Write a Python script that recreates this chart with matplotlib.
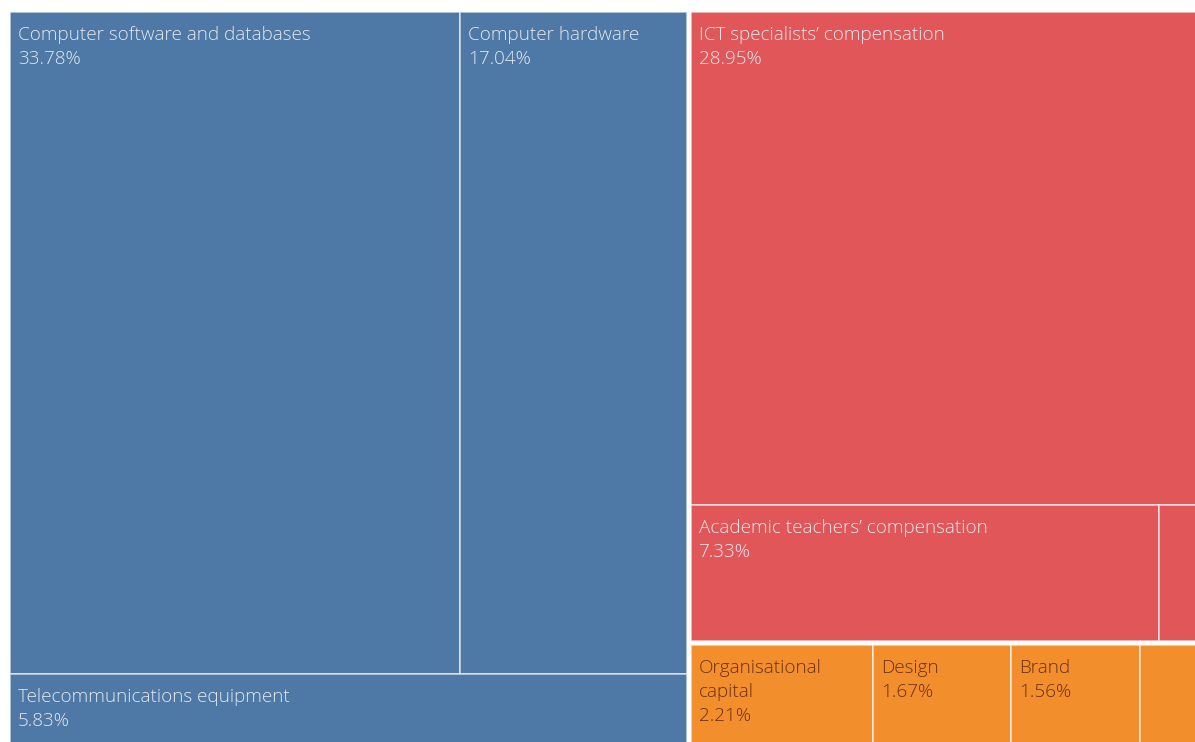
import matplotlib.pyplot as plt
from matplotlib.patches import Rectangle

plt.rcParams['font.family'] = ['Open Sans', 'DejaVu Sans']

# Shares of intangible investment (%)
blue_labels = ['Computer software and databases', 'Computer hardware', 'Telecommunications equipment']
blue_values = [33.78, 17.04, 5.83]
red_labels = ["ICT specialists\u2019 compensation", "Academic teachers\u2019 compensation", '']
red_values = [28.95, 7.33, 0.67]
orange_labels = ['Organisational\ncapital', 'Design', 'Brand', '']
orange_values = [2.21, 1.67, 1.56, 0.75]

BLUE = '#4e79a7'
RED = '#e15759'
ORANGE = '#f28e2b'
LIGHT_TXT = '#e3e8ee'
DARK_TXT = '#6e3012'
INNER = (1, 1, 1, 0.65)

W, H, GAP = 1192, 738, 4

fig = plt.figure(figsize=(11.95, 7.42), dpi=100)
ax = fig.add_axes([10 / 1195, -8 / 742, W / 1195, H / 742])
ax.set_xlim(0, W)
ax.set_ylim(H, 0)
ax.axis('off')


def cell(x, y, w, h, color, label, value, txt_color):
    ax.add_patch(Rectangle((x, y), w, h, facecolor=color, edgecolor=INNER, linewidth=1.2))
    if label:
        ax.text(x + 8, y + 14, f'{label}\n{value:.2f}%', color=txt_color, fontsize=13.6,
                fontweight='light', va='top', ha='left', linespacing=1.45)


blue_tot = sum(blue_values)
red_tot = sum(red_values)
orange_tot = sum(orange_values)
grand = blue_tot + red_tot + orange_tot

# left block: software + hardware on top, telecom below
blue_w = W * blue_tot / grand
top_h = H * (blue_values[0] + blue_values[1]) / blue_tot
sw_w = blue_w * blue_values[0] / (blue_values[0] + blue_values[1])
cell(0, 0, sw_w, top_h, BLUE, blue_labels[0], blue_values[0], LIGHT_TXT)
cell(sw_w, 0, blue_w - sw_w, top_h, BLUE, blue_labels[1], blue_values[1], LIGHT_TXT)
cell(0, top_h, blue_w, H - top_h, BLUE, blue_labels[2], blue_values[2], LIGHT_TXT)

# right column: compensation block on top, other intangibles below
rx = blue_w + GAP
rw = W - rx
red_h = (H - GAP) * red_tot / (red_tot + orange_tot)
ict_h = red_h * red_values[0] / red_tot
cell(rx, 0, rw, ict_h, RED, red_labels[0], red_values[0], LIGHT_TXT)
row_tot = red_values[1] + red_values[2]
xx = rx
for lab, v in zip(red_labels[1:], red_values[1:]):
    w = rw * v / row_tot
    cell(xx, ict_h, w, red_h - ict_h, RED, lab, v, LIGHT_TXT)
    xx += w

oy = red_h + GAP
xx = rx
for lab, v in zip(orange_labels, orange_values):
    w = rw * v / orange_tot
    cell(xx, oy, w, H - oy, ORANGE, lab, v, DARK_TXT)
    xx += w

fig.savefig('out.png', dpi=100, facecolor='white')
